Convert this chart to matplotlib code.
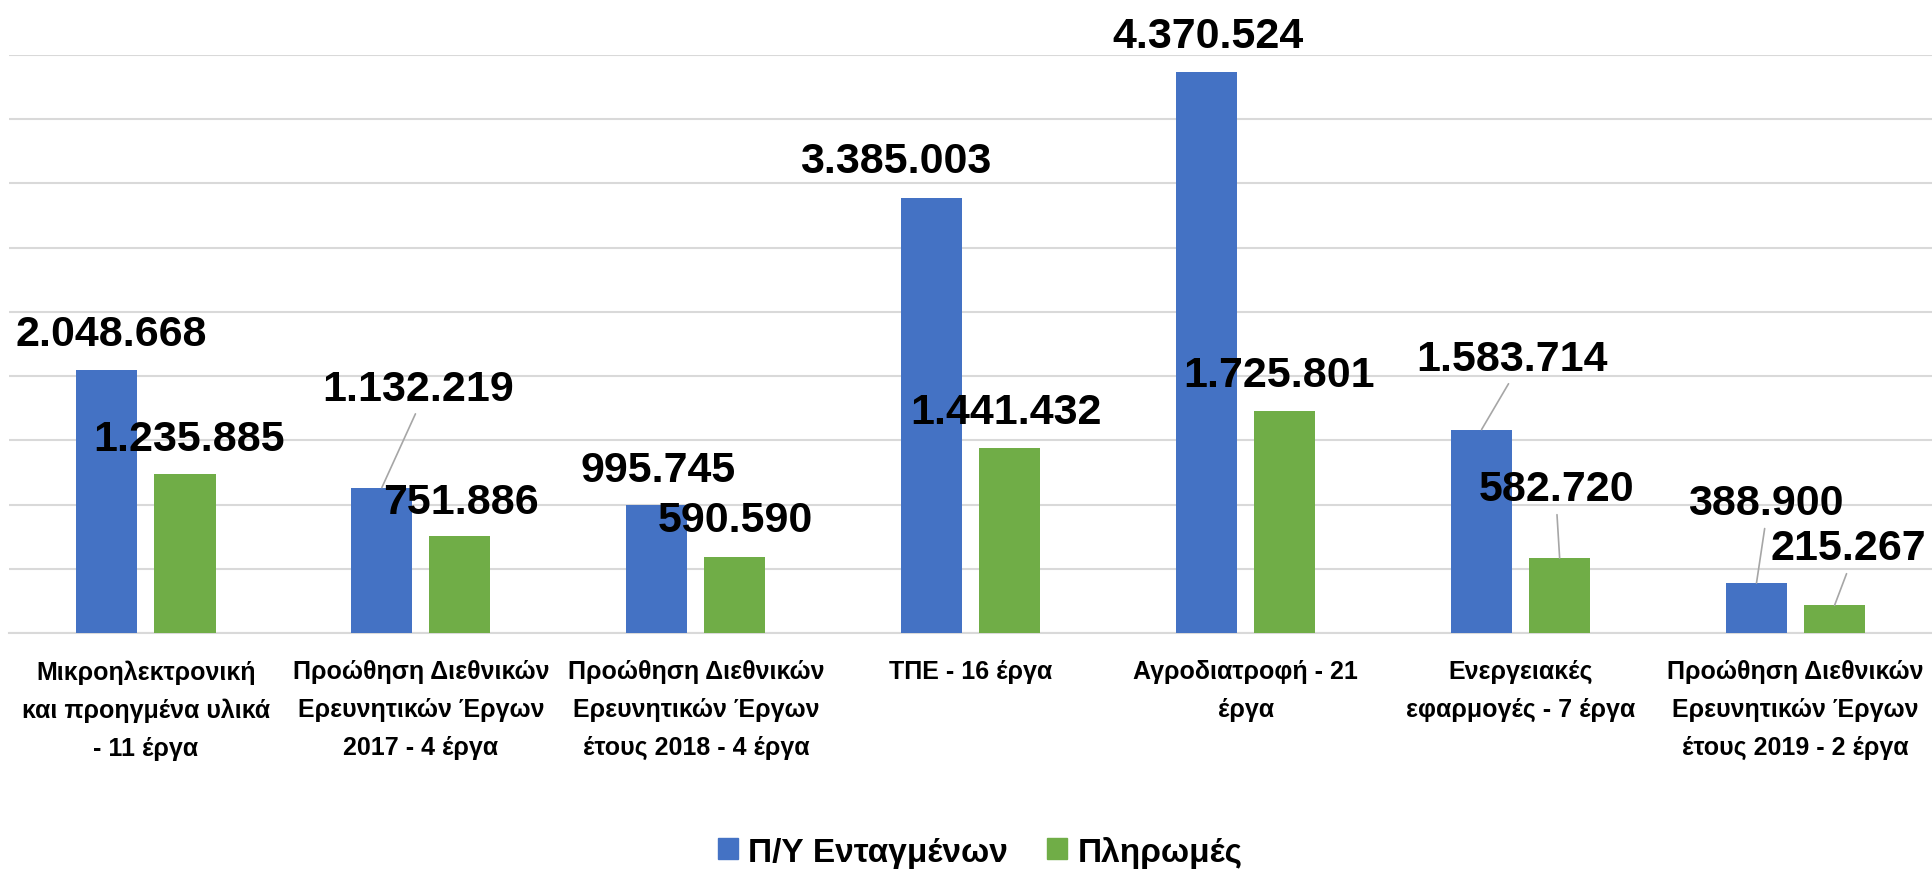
import numpy as np
import matplotlib
matplotlib.use('Agg')
from matplotlib import pyplot as plt
from matplotlib.patches import Patch

plt.rcParams['font.family'] = ['Liberation Sans', 'DejaVu Sans']

# Data
categories = [
    'Μικροηλεκτρονική\nκαι προηγμένα υλικά\n- 11 έργα',
    'Προώθηση Διεθνικών\nΕρευνητικών Έργων\n2017 - 4 έργα',
    'Προώθηση Διεθνικών\nΕρευνητικών Έργων\nέτους 2018 - 4 έργα',
    'ΤΠΕ - 16 έργα',
    'Αγροδιατροφή - 21\nέργα',
    'Ενεργειακές\nεφαρμογές - 7 έργα',
    'Προώθηση Διεθνικών\nΕρευνητικών Έργων\nέτους 2019 - 2 έργα',
]
budget = [2048668, 1132219, 995745, 3385003, 4370524, 1583714, 388900]
payments = [1235885, 751886, 590590, 1441432, 1725801, 582720, 215267]
series_names = ['Π/Υ Ενταγμένων', 'Πληρωμές']

# label placement (pixel offsets from bar top), and which ones get a leader line
budget_offsets = [(4, 36), (36, 99), (1, 35), (-36, 37), (1, 36), (30, 71), (9, 80)]
payment_offsets = [(4, 35), (1, 34), (0, 37), (-4, 36), (-6, 36), (-3, 69), (14, 57)]
budget_leader = [False, True, False, False, False, True, True]
payment_leader = [False, False, False, False, False, True, True]

blue = '#4472C4'
green = '#70AD47'

def fmt(v):
    return f'{v:,}'.replace(',', '.')

fig = plt.figure(figsize=(19.33, 8.70), dpi=100)
ax = fig.add_axes([0.0044, 0.2713, 0.9956, 0.6643])

x = np.arange(len(categories))
w = 0.222
off = 0.142
b1 = ax.bar(x - off, budget, w, color=blue, zorder=3)
b2 = ax.bar(x + off, payments, w, color=green, zorder=3)

ax.set_xlim(-0.5, len(categories) - 0.5)
ax.set_ylim(0, 4500000)
ax.set_yticks(np.arange(0, 4500001, 500000))
ax.yaxis.grid(True, color='#D9D9D9', linewidth=1.5, zorder=0)
ax.tick_params(axis='y', left=False, labelleft=False)
ax.tick_params(axis='x', length=0, pad=19)
ax.set_xticks(x)
ax.set_xticklabels(categories, fontsize=18, fontweight='bold', linespacing=1.72)
for s in ['top', 'right', 'left']:
    ax.spines[s].set_visible(False)
ax.spines['bottom'].set_color('#D9D9D9')
ax.spines['bottom'].set_linewidth(1.5)


def add_labels(bars, vals, offsets, leaders):
    for bar, v, (dx, dy), lead in zip(bars, vals, offsets, leaders):
        xc = bar.get_x() + bar.get_width() / 2
        kw = {}
        if lead:
            kw['arrowprops'] = dict(arrowstyle='-', color='#A6A6A6', lw=1.2,
                                    shrinkA=2, shrinkB=0, relpos=(0.5, 0.0))
        ax.annotate(fmt(v), xy=(xc, v), xytext=(dx, dy), textcoords='offset pixels',
                    ha='center', va='center', fontsize=31, fontweight='bold',
                    color='black', annotation_clip=False, zorder=5, **kw)


add_labels(b1, budget, budget_offsets, budget_leader)
add_labels(b2, payments, payment_offsets, payment_leader)

handles = [Patch(color=blue, label=series_names[0]), Patch(color=green, label=series_names[1])]
fig.legend(handles=handles, loc='center', bbox_to_anchor=(0.507, 0.02), ncol=2, frameon=False,
           prop={'size': 24, 'weight': 'bold'}, handlelength=0.6, handleheight=0.6,
           handletextpad=0.3, columnspacing=1.2)

fig.savefig('out.png', dpi=100)
